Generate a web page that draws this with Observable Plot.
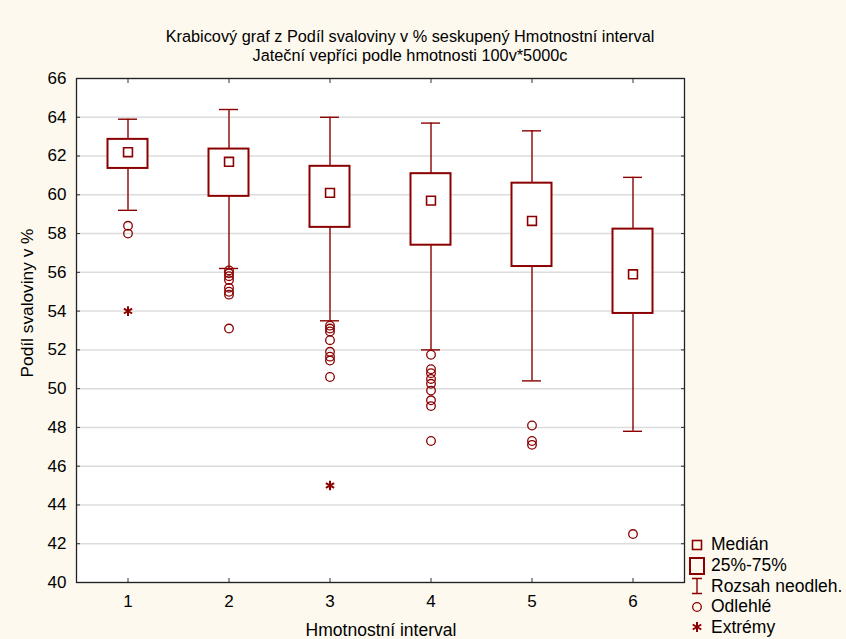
<!DOCTYPE html>
<html>
<head>
<meta charset="utf-8">
<script src="https://cdn.jsdelivr.net/npm/d3@7"></script>
<script src="https://cdn.jsdelivr.net/npm/@observablehq/plot@0.6"></script>
<style>
  html, body { margin: 0; padding: 0; background: #fdf9ee; }
  #chart { position: relative; width: 846px; height: 639px; background: #fdf9ee;
           font-family: "Liberation Sans", Arial, sans-serif; color: #000; overflow: hidden; }
  #chart svg { position: absolute; left: 0; top: 0; }
  .title { position: absolute; left: 410px; transform: translateX(-50%); white-space: nowrap; font-size: 16.3px; line-height: 18px; }
  .xlabel { position: absolute; left: 381px; top: 620px; transform: translateX(-50%); white-space: nowrap; font-size: 17.5px; line-height: 20px; }
  .ylabel { position: absolute; left: 27px; top: 303px; transform: translate(-50%, -50%) rotate(-90deg); white-space: nowrap; font-size: 17.3px; line-height: 20px; }
  .legend { position: absolute; left: 688px; top: 534.7px; font-size: 17.5px; }
  .legend div { height: 20.6px; display: flex; align-items: center; white-space: nowrap; }
  .legend svg { position: static !important; width: 18px; height: 20px; margin-right: 5px; flex: none; }
</style>
</head>
<body>
<div id="chart">
  <div class="title" style="top:27px">Krabicový graf z Podíl svaloviny v % seskupený Hmotnostní interval</div>
  <div class="title" style="top:46px">Jateční vepříci podle hmotnosti 100v*5000c</div>
  <div class="ylabel">Podíl svaloviny v %</div>
  <div class="xlabel">Hmotnostní interval</div>
</div>
<script>
// Weight interval groups
const categories = ["1", "2", "3", "4", "5", "6"];

// Box statistics per group (muscle share, %)
const medians     = [62.2, 61.7, 60.1, 59.7, 58.65, 55.9];
const quartile1   = [61.36, 59.92, 58.32, 57.4, 56.3, 53.88];
const quartile3   = [62.86, 62.36, 61.47, 61.09, 60.6, 58.23];
const whiskerLow  = [59.2, 56.2, 53.5, 52.0, 50.4, 47.8];
const whiskerHigh = [63.9, 64.4, 64.0, 63.7, 63.3, 60.9];

// Outliers and extremes per group
const outliers = [
  [58.4, 58.0],
  [56.1, 55.95, 55.8, 55.6, 55.2, 55.0, 54.85, 53.1],
  [53.25, 53.1, 52.95, 52.5, 51.9, 51.65, 51.45, 50.6],
  [51.75, 51.0, 50.8, 50.5, 50.25, 49.9, 49.4, 49.1, 47.3],
  [48.1, 47.3, 47.1],
  [42.5]
];
const extremes = [[54.0], [], [45.0], [], [], []];

const yTicks = [40, 42, 44, 46, 48, 50, 52, 54, 56, 58, 60, 62, 64, 66];

const boxes = categories.map((c, i) => ({
  group: c, median: medians[i], q1: quartile1[i], q3: quartile3[i],
  lo: whiskerLow[i], hi: whiskerHigh[i]
}));
const outlierPoints = categories.flatMap((c, i) => outliers[i].map(v => ({group: c, value: v})));
const extremePoints = categories.flatMap((c, i) => extremes[i].map(v => ({group: c, value: v})));

const red = "#8b0000";

const chart = Plot.plot({
  width: 846,
  height: 639,
  marginLeft: 76,
  marginRight: 162,
  marginTop: 78,
  marginBottom: 57,
  style: { background: "transparent", fontFamily: "'Liberation Sans', Arial, sans-serif", fontSize: "17px", color: "#000" },
  x: { type: "band", domain: categories, padding: 0 },
  y: { domain: [40, 66] },
  marks: [
    Plot.frame({ fill: "white" }),
    Plot.gridY(yTicks, { stroke: "#dcdcdc", strokeOpacity: 1, strokeWidth: 1.5 }),
    // whiskers
    Plot.ruleX(boxes, { x: "group", y1: "lo", y2: "q1", stroke: red, strokeWidth: 1.4 }),
    Plot.ruleX(boxes, { x: "group", y1: "q3", y2: "hi", stroke: red, strokeWidth: 1.4 }),
    Plot.tickY(boxes, { x: "group", y: "lo", stroke: red, strokeWidth: 1.4, insetLeft: 41, insetRight: 41 }),
    Plot.tickY(boxes, { x: "group", y: "hi", stroke: red, strokeWidth: 1.4, insetLeft: 41, insetRight: 41 }),
    // 25%-75% boxes
    Plot.barY(boxes, { x: "group", y1: "q1", y2: "q3", fill: "white", stroke: red, strokeWidth: 2, insetLeft: 30.5, insetRight: 30.5 }),
    // medians
    Plot.dot(boxes, { x: "group", y: "median", symbol: "square", r: 5, stroke: red, strokeWidth: 1.6, fill: "white" }),
    // outliers
    Plot.dot(outlierPoints, { x: "group", y: "value", r: 4.3, stroke: red, strokeWidth: 1.3, fill: "none" }),
    // extremes
    Plot.dot(extremePoints, { x: "group", y: "value", symbol: "asterisk", r: 4.5, stroke: red, strokeWidth: 2 }),
    // axes with inward ticks on all four sides
    Plot.axisY(yTicks, { anchor: "left", tickSize: -4, tickPadding: 14, label: null, stroke: "#333" }),
    Plot.axisY(yTicks, { anchor: "right", tickSize: -4, tickFormat: () => "", label: null, stroke: "#333" }),
    Plot.axisX({ anchor: "bottom", tickSize: -4, tickPadding: 16.5, label: null, stroke: "#333" }),
    Plot.axisX({ anchor: "top", tickSize: -4, tickFormat: () => "", label: null, stroke: "#333" }),
    Plot.frame({ stroke: "#222", strokeWidth: 1.3 })
  ]
});
document.getElementById("chart").appendChild(chart);

// Legend
const legendItems = [
  { label: "Medián", icon: `<rect x="4.5" y="5.5" width="9" height="9" fill="none" stroke="${red}" stroke-width="1.6"/>` },
  { label: "25%-75%", icon: `<rect x="2" y="2" width="14" height="16" fill="none" stroke="${red}" stroke-width="2"/>` },
  { label: "Rozsah neodleh.", icon: `<path d="M4,2.5H14M9,2.5V17.5M4,17.5H14" fill="none" stroke="${red}" stroke-width="1.4"/>` },
  { label: "Odlehlé", icon: `<circle cx="9" cy="10" r="4.3" fill="none" stroke="${red}" stroke-width="1.3"/>` },
  { label: "Extrémy", icon: `<path d="M9,5V15M4.7,7.5L13.3,12.5M4.7,12.5L13.3,7.5" fill="none" stroke="${red}" stroke-width="2"/>` }
];
const legend = document.createElement("div");
legend.className = "legend";
legend.innerHTML = legendItems.map(d =>
  `<div><svg viewBox="0 0 18 20">${d.icon}</svg><span>${d.label}</span></div>`).join("");
document.getElementById("chart").appendChild(legend);
</script>
</body>
</html>
